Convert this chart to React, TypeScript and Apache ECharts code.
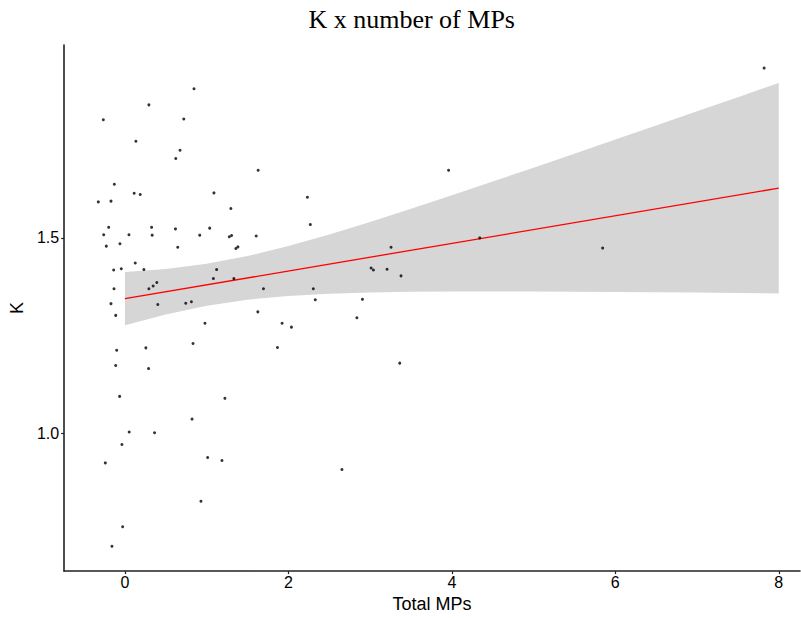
import React, { useEffect, useRef } from "react";
import * as echarts from "echarts";

const titleText = "K x number of MPs";
const xName = "Total MPs";
const yName = "K";
const xTicks = [0, 2, 4, 6, 8];
const yTicks = [1.0, 1.5];

const pointsX = [
  0.845, 0.293, -0.265, 0.72, 0.134, 0.674, 0.622, 1.63, -0.13, 0.113, 0.187, 1.089, -0.326, -0.171,
  1.296, -0.199, 0.326, 0.618, 1.037, -0.26, 0.049, 0.333, 0.915, 1.277, 1.305, 1.606, -0.228, -0.061,
  0.646, 1.357, 1.382, 0.126, -0.138, -0.045, 0.232, 1.122, 1.082, 1.333, 0.39, 0.345, 0.293, -0.134,
  -0.171, 0.402, 0.744, 0.813, -0.113, 1.626, 0.979, -0.101, 0.256, 0.833, -0.113, 0.289, -0.065, 1.223,
  0.821, 0.052, 0.362, -0.037, -0.24, 1.012, 1.187, 0.93, -0.028, -0.159, 2.232, 2.268, 3.256, 3.012,
  3.04, 3.207, 3.378, 1.695, 2.305, 2.329, 2.906, 1.923, 2.037, 2.838, 1.866, 3.362, 2.655, 7.821,
  3.96, 4.341, 5.845,
];
const pointsY = [
  1.881, 1.84, 1.802, 1.804, 1.747, 1.724, 1.703, 1.673, 1.637, 1.614, 1.611, 1.615, 1.592, 1.594,
  1.575, 1.527, 1.527, 1.523, 1.525, 1.508, 1.508, 1.507, 1.507, 1.503, 1.506, 1.505, 1.479, 1.485,
  1.476, 1.473, 1.477, 1.436, 1.418, 1.421, 1.419, 1.419, 1.396, 1.396, 1.386, 1.377, 1.37, 1.37,
  1.332, 1.33, 1.333, 1.337, 1.302, 1.311, 1.282, 1.213, 1.219, 1.23, 1.174, 1.166, 1.095, 1.09,
  1.037, 1.004, 1.002, 0.972, 0.925, 0.939, 0.931, 0.827, 0.762, 0.712, 1.604, 1.534, 1.476, 1.423,
  1.418, 1.42, 1.403, 1.37, 1.37, 1.342, 1.343, 1.282, 1.272, 1.296, 1.22, 1.18, 0.908, 1.934,
  1.673, 1.5, 1.474,
];

const bandX = [0, 0.5, 1, 1.5, 2, 2.5, 3, 3.5, 4, 4.5, 5, 5.5, 6, 6.5, 7, 7.5, 8];
const bandLower = [
  1.2768, 1.3042, 1.3265, 1.3421, 1.3517, 1.3574, 1.3605, 1.3621, 1.3629, 1.3631, 1.363, 1.3625,
  1.3618, 1.3611, 1.3602, 1.3591, 1.3581,
];
const bandUpper = [
  1.413, 1.4208, 1.4339, 1.4535, 1.4791, 1.5088, 1.5409, 1.5745, 1.6091, 1.6441, 1.6796, 1.7153,
  1.7512, 1.7873, 1.8234, 1.8597, 1.8961,
];
const fitX = [0, 8];
const fitY = [1.3449, 1.6271];

export default function App() {
  const ref = useRef<HTMLDivElement>(null);
  useEffect(() => {
    if (!ref.current) return;
    const chart = echarts.init(ref.current, null, { renderer: "svg" });
    const sans = "Liberation Sans, Arial, sans-serif";
    const axisLine = { show: true, onZero: false, lineStyle: { color: "#222", width: 1.6 } };
    chart.setOption({
      animation: false,
      backgroundColor: "#fff",
      graphic: [
        {
          type: "text",
          x: 411.7,
          y: 19,
          style: {
            text: titleText,
            fill: "#000",
            font: "26px 'Liberation Serif', 'Times New Roman', serif",
            textAlign: "center",
            textVerticalAlign: "middle",
          },
        },
      ],
      grid: { left: 62, right: 1, top: 45, bottom: 44 },
      xAxis: {
        type: "value",
        min: -0.744,
        max: 8.26,
        name: xName,
        nameLocation: "middle",
        nameGap: 20,
        nameTextStyle: { color: "#000", fontSize: 18, fontFamily: sans },
        axisLine,
        axisTick: { show: true, length: 3, customValues: xTicks, lineStyle: { color: "#222", width: 1.2 } },
        axisLabel: { customValues: xTicks, color: "#000", fontSize: 16, fontFamily: sans, margin: 3 },
        splitLine: { show: false },
      },
      yAxis: {
        type: "value",
        min: 0.6485,
        max: 1.993,
        name: yName,
        nameLocation: "middle",
        nameGap: 33,
        nameTextStyle: { color: "#000", fontSize: 18, fontFamily: sans },
        axisLine,
        axisTick: { show: true, length: 3, customValues: yTicks, lineStyle: { color: "#222", width: 1.2 } },
        axisLabel: {
          customValues: yTicks,
          color: "#000",
          fontSize: 16,
          fontFamily: sans,
          margin: 5,
          formatter: (v: number) => v.toFixed(1),
        },
        splitLine: { show: false },
      },
      series: [
        {
          type: "custom",
          silent: true,
          data: bandX.map((x, i) => [x, bandLower[i], bandUpper[i]]),
          encode: { x: 0, y: [1, 2] },
          renderItem: (params: any, api: any) => {
            if (params.dataIndex !== 0) return null;
            const upper = bandX.map((x, i) => api.coord([x, bandUpper[i]]));
            const lower = bandX.map((x, i) => api.coord([x, bandLower[i]])).reverse();
            return {
              type: "polygon",
              shape: { points: upper.concat(lower) },
              style: { fill: "#d6d6d6" },
            };
          },
          z: 1,
        },
        {
          type: "line",
          symbol: "none",
          lineStyle: { color: "#ff0000", width: 1.3 },
          data: fitX.map((x, i) => [x, fitY[i]]),
          z: 2,
        },
        {
          type: "scatter",
          symbol: "circle",
          symbolSize: 3,
          itemStyle: { color: "#000" },
          data: pointsX.map((x, i) => [x, pointsY[i]]),
          z: 3,
        },
      ],
    });
    return () => chart.dispose();
  }, []);
  return (
    <div
      ref={ref}
      style={{ position: "fixed", left: 0, top: 0, width: 801, height: 618, background: "#fff" }}
    />
  );
}
